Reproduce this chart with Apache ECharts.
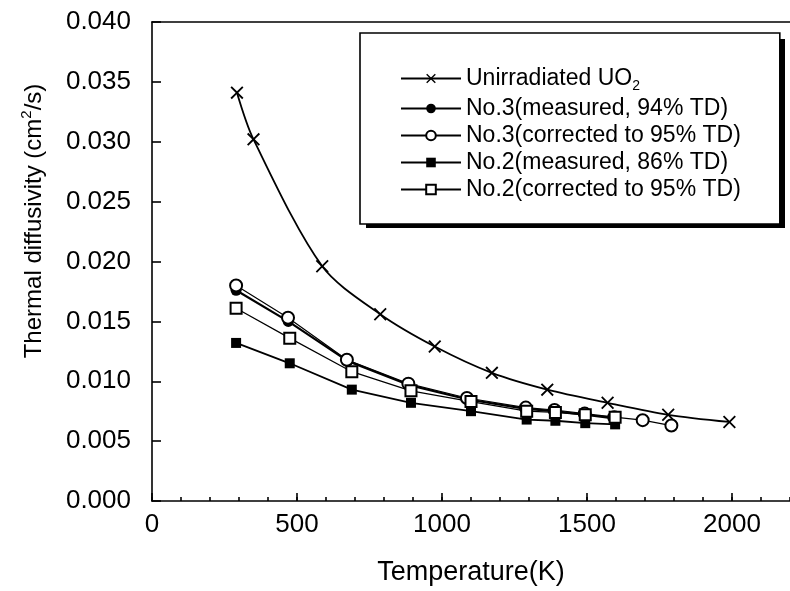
<!DOCTYPE html>
<html>
<head>
<meta charset="utf-8">
<script src="https://cdn.jsdelivr.net/npm/echarts@6/dist/echarts.min.js"></script>
<style>
  html, body { margin: 0; padding: 0; background: #fff; }
  #chart { width: 790px; height: 591px; }
</style>
</head>
<body>
<div id="chart"></div>
<script>
// Thermal diffusivity vs temperature (K, cm^2/s)
const unirradT = [293, 350, 587, 787, 975, 1172, 1363, 1571, 1780, 1991];
const unirradD = [0.0341, 0.0302, 0.0196, 0.0156, 0.0129, 0.0107, 0.0093, 0.0082, 0.0072, 0.0066];

const no3MeasT = [290, 470, 674, 884, 1086, 1289, 1388, 1492, 1594];
const no3MeasD = [0.0176, 0.0150, 0.0117, 0.0097, 0.0085, 0.0077, 0.0075, 0.0072, 0.0069];

const no3CorrT = [290, 469, 672, 884, 1086, 1289, 1388, 1492, 1594, 1692, 1791];
const no3CorrD = [0.0180, 0.0153, 0.0118, 0.0098, 0.0086, 0.0078, 0.0076, 0.0073, 0.0070, 0.00675, 0.0063];

const no2MeasT = [290, 475, 689, 893, 1100, 1292, 1391, 1494, 1597];
const no2MeasD = [0.0132, 0.0115, 0.0093, 0.0082, 0.0075, 0.0068, 0.0067, 0.0065, 0.0064];

const no2CorrT = [290, 475, 689, 893, 1100, 1292, 1391, 1494, 1597];
const no2CorrD = [0.0161, 0.0136, 0.0108, 0.0092, 0.0083, 0.0075, 0.0074, 0.0072, 0.0070];

const seriesNames = [
  'Unirradiated UO2',
  'No.3(measured, 94% TD)',
  'No.3(corrected to 95% TD)',
  'No.2(measured, 86% TD)',
  'No.2(corrected to 95% TD)'
];

const yTickLabels = ['0.000', '0.005', '0.010', '0.015', '0.020', '0.025', '0.030', '0.035', '0.040'];

function pairs(xs, ys) { return xs.map((x, i) => [x, ys[i]]); }

const FONT = 'Liberation Sans, Arial, Helvetica, sans-serif';
const crossSymbol = 'path://M0,1L1,0L5,4L9,0L10,1L6,5L10,9L9,10L5,6L1,10L0,9L4,5Z';

const chart = echarts.init(document.getElementById('chart'), null, { renderer: 'canvas' });

const AXIS_LINE = { color: '#000', width: 1.6 };

chart.setOption({
  backgroundColor: '#fff',
  animation: false,
  grid: { left: 152, top: 22, width: 642, height: 482, show: false },
  xAxis: [{
    type: 'value', min: 0, max: 2200, interval: 500,
    name: 'Temperature(K)', nameLocation: 'middle', nameGap: 58,
    nameTextStyle: { fontFamily: FONT, fontSize: 27, color: '#000' },
    axisLine: { show: true, lineStyle: AXIS_LINE },
    axisTick: { show: true, inside: true, length: 8, lineStyle: AXIS_LINE },
    axisLabel: { fontFamily: FONT, fontSize: 26, color: '#000', margin: 11, showMaxLabel: false,
      formatter: v => (v > 2000 ? '' : String(v)) },
    splitLine: { show: false }
  }, {
    // minor ticks every 100 K
    type: 'value', min: 0, max: 2200, interval: 100, position: 'bottom',
    axisLine: { show: false },
    axisTick: { show: true, inside: true, length: 4, lineStyle: AXIS_LINE },
    axisLabel: { show: false },
    splitLine: { show: false }
  }, {
    // top frame line
    type: 'value', min: 0, max: 2200, position: 'top',
    axisLine: { show: true, lineStyle: AXIS_LINE },
    axisTick: { show: false }, axisLabel: { show: false }, splitLine: { show: false }
  }],
  yAxis: {
    type: 'value', min: 0, max: 0.04, interval: 0.005,
    axisLine: { show: true, lineStyle: AXIS_LINE },
    axisTick: { show: true, inside: true, length: 9, lineStyle: AXIS_LINE },
    axisLabel: { fontFamily: FONT, fontSize: 26, color: '#000', margin: 21,
      formatter: (v) => yTickLabels[Math.round(v / 0.005)] },
    splitLine: { show: false }
  },
  graphic: [{
    type: 'text', x: 34, y: 221, rotation: Math.PI / 2,
    style: {
      text: '{a|Thermal diffusivity (cm}{s|2}{a|/s)}',
      align: 'center', verticalAlign: 'middle',
      rich: {
        a: { fontFamily: FONT, fontSize: 24, color: '#000', lineHeight: 26 },
        s: { fontFamily: FONT, fontSize: 15, color: '#000', lineHeight: 8, padding: [0, 0, 14, 0] }
      }
    }
  }, {
    // drop shadow behind the legend box
    type: 'rect', z: 1,
    shape: { x: 366, y: 39, width: 419, height: 189 },
    style: { fill: '#000' }
  }],
  legend: {
    orient: 'vertical', left: 360, top: 33, z: 5,
    padding: [31, 39, 23, 40],
    itemWidth: 60, itemHeight: 12, itemGap: 4,
    backgroundColor: '#fff', borderColor: '#000', borderWidth: 1.6,
    data: seriesNames,
    formatter: function (name) {
      if (name === seriesNames[0]) return '{t|Unirradiated UO}{sub|2}';
      return '{t|' + name + '}';
    },
    textStyle: {
      fontFamily: FONT, fontSize: 23, color: '#000',
      rich: {
        t: { fontFamily: FONT, fontSize: 23, color: '#000', lineHeight: 23 },
        sub: { fontFamily: FONT, fontSize: 14, color: '#000', lineHeight: 8, padding: [15, 0, 0, 0] }
      }
    }
  },
  series: [{
    name: seriesNames[0], type: 'line', smooth: 0.3,
    data: pairs(unirradT, unirradD),
    symbol: crossSymbol, symbolSize: 13,
    itemStyle: { color: '#000' },
    lineStyle: { color: '#000', width: 1.8 }
  }, {
    name: seriesNames[1], type: 'line',
    data: pairs(no3MeasT, no3MeasD),
    symbol: 'circle', symbolSize: 11,
    itemStyle: { color: '#000' },
    lineStyle: { color: '#000', width: 2.2 }
  }, {
    name: seriesNames[2], type: 'line',
    data: pairs(no3CorrT, no3CorrD),
    symbol: 'emptyCircle', symbolSize: 12,
    itemStyle: { color: '#000', borderWidth: 1.6 },
    lineStyle: { color: '#000', width: 1.2 }
  }, {
    name: seriesNames[3], type: 'line',
    data: pairs(no2MeasT, no2MeasD),
    symbol: 'rect', symbolSize: 10,
    itemStyle: { color: '#000' },
    lineStyle: { color: '#000', width: 1.8 }
  }, {
    name: seriesNames[4], type: 'line',
    data: pairs(no2CorrT, no2CorrD),
    symbol: 'emptyRect', symbolSize: 11,
    itemStyle: { color: '#000', borderWidth: 1.6 },
    lineStyle: { color: '#000', width: 1.2 }
  }]
});
</script>
</body>
</html>
